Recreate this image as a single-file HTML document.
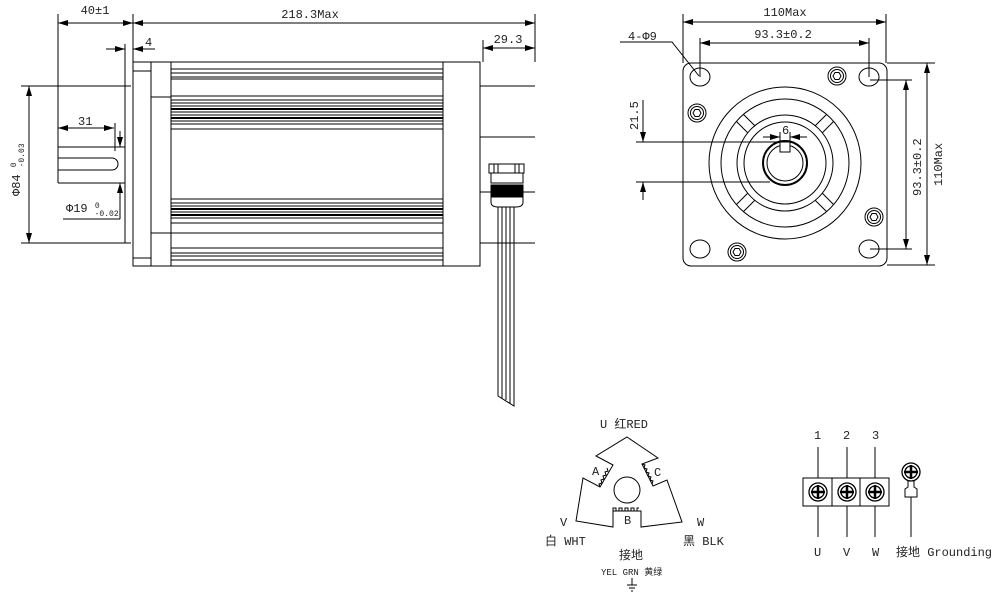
<!DOCTYPE html>
<html><head><meta charset="utf-8"><style>
html,body{margin:0;padding:0;background:#fff;}
svg{display:block;}
text{font-family:"Liberation Mono","Noto Sans CJK SC",monospace;font-size:12px;fill:#222;}
</style></head><body>
<svg width="1002" height="595" viewBox="0 0 1002 595" xmlns="http://www.w3.org/2000/svg">
<defs>
<marker id="a" viewBox="0 0 10 6" refX="10" refY="3" markerWidth="10" markerHeight="6" orient="auto-start-reverse" markerUnits="userSpaceOnUse"><path d="M0,0 L10,3 L0,6 z" fill="#000"/></marker>
</defs>
<g stroke="#000" stroke-width="1" fill="none">
<line x1="58" y1="14" x2="58" y2="183"/>
<line x1="133" y1="14" x2="133" y2="62"/>
<line x1="535" y1="14" x2="535" y2="62"/>
<line x1="58" y1="23" x2="133" y2="23" marker-start="url(#a)" marker-end="url(#a)"/>
<line x1="133" y1="23" x2="535" y2="23" marker-start="url(#a)" marker-end="url(#a)"/>
<line x1="483" y1="48" x2="535" y2="48" marker-start="url(#a)" marker-end="url(#a)"/>
<line x1="483" y1="40" x2="483" y2="62"/>
<line x1="106" y1="49" x2="125" y2="49" marker-end="url(#a)"/>
<line x1="155" y1="49" x2="133" y2="49" marker-end="url(#a)"/>
<line x1="125" y1="44" x2="125" y2="243"/>
<rect x="133" y="62" width="347" height="204"/>
<line x1="151" y1="62" x2="151" y2="266"/>
<line x1="171" y1="62" x2="171" y2="266"/>
<line x1="443" y1="62" x2="443" y2="266"/>
<line x1="133" y1="71" x2="151" y2="71"/>
<line x1="133" y1="258" x2="151" y2="258"/>
<path d="M151 97 H171 M151 233 H171"/>
<path d="M171 69H443 M171 73H443 M171 77H443 M171 79H443 M171 96H443 M171 100H443 M171 103H443 M171 106H443 M171 109H443 M171 112H443 M171 115H443 M171 118H443 M171 121H443 M171 124H443 M171 129H443"/>
<path d="M171 199H443 M171 203H443 M171 206H443 M171 209H443 M171 212H443 M171 215H443 M171 218H443 M171 223H443 M171 233H443 M171 248H443 M171 253H443 M171 256H443 M171 260H443"/>
<path stroke-width="2" d="M171 109H443 M171 118H443 M171 209H443 M171 215H443"/>
<path d="M480 62 V266 M480 86H535 M480 137H535 M480 192H535 M480 243H535"/>
<line x1="21" y1="86" x2="131" y2="86"/>
<line x1="21" y1="243" x2="131" y2="243"/>
<line x1="29" y1="86" x2="29" y2="243" marker-start="url(#a)" marker-end="url(#a)"/>
<path d="M58 147 H125 M58 183 H125 M58 158 H112 A6 6 0 0 1 112 170 H58"/>
<line x1="58" y1="128" x2="114" y2="128" marker-start="url(#a)" marker-end="url(#a)"/>
<line x1="115" y1="123" x2="115" y2="151"/>
<line x1="120" y1="131" x2="120" y2="147" marker-end="url(#a)"/>
<line x1="120" y1="219" x2="120" y2="183" marker-end="url(#a)"/>
<line x1="63" y1="219" x2="120" y2="219"/>
<rect x="489" y="164" width="35" height="9"/>
<path d="M494 164 V173 M519 164 V173 M498 164V173 M515 164V173"/>
<rect x="491" y="173" width="32" height="10"/>
<rect x="491" y="185" width="32" height="12" fill="#000"/>
<path d="M491 197 V202 Q491 207 498 207 H516 Q523 207 523 202 V197"/>
<path d="M498 207 V396 L514 406 V207"/>
<path d="M502 207V398 M506 207V400 M510 207V403"/>
<line x1="683" y1="14" x2="683" y2="63"/>
<line x1="886" y1="14" x2="886" y2="63"/>
<line x1="683" y1="22" x2="886" y2="22" marker-start="url(#a)" marker-end="url(#a)"/>
<line x1="700" y1="38" x2="700" y2="77"/>
<line x1="869" y1="38" x2="869" y2="77"/>
<line x1="700" y1="43" x2="869" y2="43" marker-start="url(#a)" marker-end="url(#a)"/>
<rect x="683" y="63" width="204" height="203" rx="8"/>
<path d="M620 42 H672 L699 76"/>
<ellipse cx="700" cy="77" rx="10" ry="9"/>
<ellipse cx="869" cy="77" rx="10" ry="9"/>
<ellipse cx="700" cy="249" rx="10" ry="9"/>
<ellipse cx="869" cy="249" rx="10" ry="9"/>
<g>
<circle cx="837" cy="76" r="9"/><circle cx="837" cy="76" r="6.5"/><polygon points="841,76 839,79.5 835,79.5 833,76 835,72.5 839,72.5"/>
<circle cx="697" cy="113" r="9"/><circle cx="697" cy="113" r="6.5"/><polygon points="701,113 699,116.5 695,116.5 693,113 695,109.5 699,109.5"/>
<circle cx="874" cy="217" r="9"/><circle cx="874" cy="217" r="6.5"/><polygon points="878,217 876,220.5 872,220.5 870,217 872,213.5 876,213.5"/>
<circle cx="737" cy="252" r="9"/><circle cx="737" cy="252" r="6.5"/><polygon points="741,252 739,255.5 735,255.5 733,252 735,248.5 739,248.5"/>
</g>
<circle cx="785" cy="163" r="76"/>
<circle cx="785" cy="163" r="64"/>
<circle cx="785" cy="163" r="48"/>
<circle cx="785" cy="163" r="41"/>
<g transform="translate(785 163)">
<g transform="rotate(45)"><path d="M-5 -48 V-64 M5 -48 V-64"/></g>
<g transform="rotate(135)"><path d="M-5 -48 V-64 M5 -48 V-64"/></g>
<g transform="rotate(225)"><path d="M-5 -48 V-64 M5 -48 V-64"/></g>
<g transform="rotate(315)"><path d="M-5 -48 V-64 M5 -48 V-64"/></g>
</g>
<circle cx="785" cy="163" r="22" stroke-width="2"/>
<circle cx="785" cy="163" r="18"/>
<rect x="780" y="142" width="10" height="10" fill="#fff"/>
<line x1="763" y1="137" x2="780" y2="137" marker-end="url(#a)"/>
<line x1="807" y1="137" x2="790" y2="137" marker-end="url(#a)"/>
<line x1="780" y1="132" x2="780" y2="142"/><line x1="790" y1="132" x2="790" y2="142"/>
<line x1="636" y1="142" x2="785" y2="142"/>
<line x1="636" y1="182" x2="770" y2="182"/>
<line x1="643" y1="100" x2="643" y2="142" marker-end="url(#a)"/>
<line x1="643" y1="200" x2="643" y2="182" marker-end="url(#a)"/>
<line x1="870" y1="80" x2="912" y2="80"/>
<line x1="870" y1="249" x2="912" y2="249"/>
<line x1="906" y1="80" x2="906" y2="249" marker-start="url(#a)" marker-end="url(#a)"/>
<line x1="887" y1="63" x2="935" y2="63"/>
<line x1="887" y1="265" x2="935" y2="265"/>
<line x1="927" y1="63" x2="927" y2="265" marker-start="url(#a)" marker-end="url(#a)"/>
<path d="M627 437 L658 458 L642 464 L653 486 L667 480 L682 522 L641 527 L641 511 L613 511 L613 527 L576 521 L583 478 L600 487 L613 465 L596 456 Z"/>
<path d="M642 464 l3 1 l-1 3 l3 1 l-1 3 l3 1 l-1 3 l3 1 l-1 3 l3 1 l-1 3 M600 487 l-1-3 l3-1 l-1-3 l3-1 l-1-3 l3-1 l-1-3 l3-1 l-1-3 M613 511 v-3 h3 v3 h3 v-3 h3 v3 h3 v-3 h3 v3 h3 v-3 h3 v3 h3 v-3 h2"/>
<circle cx="627" cy="490" r="13"/>
<path d="M632 578 V585 M627 585 H637 M629 588 H635 M631 591 H633"/>
<rect x="803" y="478" width="86" height="28"/>
<line x1="832" y1="478" x2="832" y2="506"/>
<line x1="860" y1="478" x2="860" y2="506"/>
<path d="M818 447V478 M847 447V478 M875 447V478 M818 506V537 M847 506V537 M875 506V537"/>
<g stroke-width="1.3">
<circle cx="818" cy="492" r="9"/><circle cx="818" cy="492" r="6"/><path d="M811 492H825 M818 485V499" stroke-width="2.5"/>
<circle cx="847" cy="492" r="9"/><circle cx="847" cy="492" r="6"/><path d="M840 492H854 M847 485V499" stroke-width="2.5"/>
<circle cx="875" cy="492" r="9"/><circle cx="875" cy="492" r="6"/><path d="M868 492H882 M875 485V499" stroke-width="2.5"/>
<circle cx="911" cy="472" r="9"/><circle cx="911" cy="472" r="6"/><path d="M904 472H918 M911 465V479" stroke-width="2.5"/>
</g>
<path d="M908 481 L908 487 L905 489 V497 H917 V489 L914 487 V481"/>
<line x1="911" y1="497" x2="911" y2="537"/>
</g>
<text x="95" y="14" text-anchor="middle">40±1</text>
<text x="310" y="18" text-anchor="middle">218.3Max</text>
<text x="145" y="46">4</text>
<text x="508" y="43" text-anchor="middle">29.3</text>
<text x="78" y="125">31</text>
<text transform="translate(20 196) rotate(-90)">Φ84 <tspan font-size="8" dy="-4">0</tspan><tspan font-size="8" dx="-5" dy="8">-0.03</tspan></text>
<text x="66" y="212">Φ19 <tspan font-size="8" dy="-4">0</tspan><tspan font-size="8" dx="-5" dy="8">-0.02</tspan></text>
<text x="785" y="16" text-anchor="middle">110Max</text>
<text x="628" y="40">4-Φ9</text>
<text x="783" y="38" text-anchor="middle">93.3±0.2</text>
<text x="782" y="134">6</text>
<text transform="translate(638 130) rotate(-90)">21.5</text>
<text transform="translate(921 196) rotate(-90)">93.3±0.2</text>
<text transform="translate(942 186) rotate(-90)">110Max</text>
<text x="600" y="428">U 红RED</text>
<text x="592" y="475">A</text>
<text x="654" y="476">C</text>
<text x="624" y="524">B</text>
<text x="560" y="526">V</text>
<text x="545" y="545">白 WHT</text>
<text x="697" y="526">W</text>
<text x="683" y="545">黑 BLK</text>
<text x="619" y="559">接地</text>
<text x="601" y="575" style="font-size:9px">YEL GRN 黄绿</text>
<text x="814" y="439">1</text>
<text x="843" y="439">2</text>
<text x="872" y="439">3</text>
<text x="814" y="556">U</text>
<text x="843" y="556">V</text>
<text x="872" y="556">W</text>
<text x="896" y="556">接地 Grounding</text>
</svg>
</body></html>
